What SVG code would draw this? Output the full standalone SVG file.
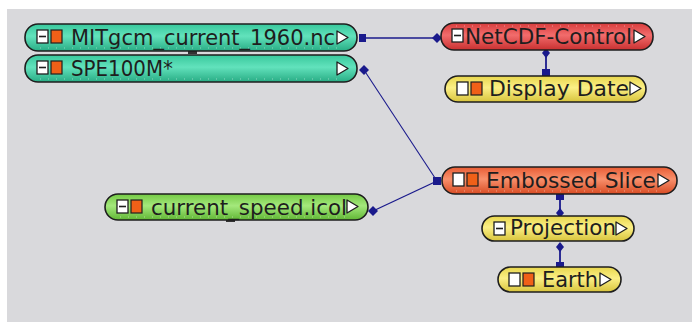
<svg xmlns="http://www.w3.org/2000/svg" width="692" height="322" viewBox="0 0 692 322">
<defs>
<linearGradient id="gTeal" x1="0" y1="0" x2="0" y2="1"><stop offset="0" stop-color="#38c89c"/><stop offset="0.45" stop-color="#62e2bc"/><stop offset="1" stop-color="#28ac84"/></linearGradient>
<linearGradient id="gRed" x1="0" y1="0" x2="0" y2="1"><stop offset="0" stop-color="#d83c3c"/><stop offset="0.45" stop-color="#f26c6c"/><stop offset="1" stop-color="#c83030"/></linearGradient>
<linearGradient id="gYellow" x1="0" y1="0" x2="0" y2="1"><stop offset="0" stop-color="#e8d64c"/><stop offset="0.45" stop-color="#fbef86"/><stop offset="1" stop-color="#d8c43c"/></linearGradient>
<linearGradient id="gOrange" x1="0" y1="0" x2="0" y2="1"><stop offset="0" stop-color="#e85c34"/><stop offset="0.45" stop-color="#f8906c"/><stop offset="1" stop-color="#d84c24"/></linearGradient>
<linearGradient id="gGreen" x1="0" y1="0" x2="0" y2="1"><stop offset="0" stop-color="#74ca44"/><stop offset="0.45" stop-color="#a4e87c"/><stop offset="1" stop-color="#60b634"/></linearGradient>
</defs>
<style>
.pill{stroke:#1e1e1e;stroke-width:1.6}
.teal{fill:url(#gTeal)}.red{fill:url(#gRed)}.yel{fill:url(#gYellow)}.org{fill:url(#gOrange)}.grn{fill:url(#gGreen)}
.box{fill:#ffffff;stroke:#1e1e1e;stroke-width:1.3}
.min{stroke:#1e1e1e;stroke-width:1.6}
.sq{fill:#f06018;stroke:#1e1e1e;stroke-width:1.2}
.play{fill:#ffffff;stroke:#1e1e1e;stroke-width:1.3;stroke-linejoin:round}
.lbl{font-family:"DejaVu Sans","Liberation Sans",sans-serif;font-size:21px;fill:#1e1e1e}
.dots{stroke:#ffffff;stroke-opacity:0.45;stroke-width:1;stroke-dasharray:1 7}
.con{stroke:#1a1a8c;fill:none}
.port{fill:#1a1a8c}
</style>
<rect x="0" y="0" width="692" height="322" fill="#ffffff"/>
<rect x="7" y="9" width="685" height="313" fill="#d9d9dc"/>

<g id="connectors">
<line class="con" x1="364" y1="38" x2="437" y2="38" stroke-width="1.6"/>
<rect class="port" x="359" y="34" width="7" height="8"/>
<path class="port" d="M437 33 L442 38 L437 43 L432 38 Z"/>
<line class="con" x1="364" y1="70" x2="437" y2="181" stroke-width="1.1"/>
<path class="port" d="M364 65 L369 70 L364 75 L359 70 Z"/>
<line class="con" x1="373" y1="211" x2="437" y2="181" stroke-width="1.3"/>
<path class="port" d="M373 206 L378 211 L373 216 L368 211 Z"/>
<rect class="port" x="433" y="177" width="8" height="8"/>
<line class="con" x1="546" y1="53" x2="546" y2="72" stroke-width="1.8"/>
<path class="port" d="M546 48 L550 53 L546 58 L542 53 Z"/>
<rect class="port" x="542" y="69" width="8" height="7"/>
<line class="con" x1="560" y1="198" x2="560" y2="213" stroke-width="1.8"/>
<rect class="port" x="556" y="193" width="8" height="7"/>
<path class="port" d="M560 208 L564 213 L560 218 L556 213 Z"/>
<line class="con" x1="560" y1="247" x2="560" y2="265" stroke-width="1.8"/>
<path class="port" d="M560 242 L564 247 L560 252 L556 247 Z"/>
<rect class="port" x="556" y="262" width="8" height="7"/>
<rect x="188" y="50" width="9" height="4" fill="#333"/>
<rect x="226" y="219" width="9" height="3" fill="#333"/>
</g>

<g id="node-mitgcm">
<rect class="pill teal" x="25" y="24" width="332" height="27" rx="13"/>
<line class="dots" x1="40" y1="48" x2="340" y2="48"/>
<rect class="box" x="37" y="30" width="11" height="13"/><line class="min" x1="39" y1="36.5" x2="46" y2="36.5"/>
<rect class="sq" x="51" y="30" width="11" height="13"/>
<text class="lbl" x="71" y="45" textLength="264" lengthAdjust="spacingAndGlyphs">MITgcm_current_1960.nc</text>
<path class="play" d="M337 31 L348 37.5 L337 44 Z"/>
</g>

<g id="node-spe100m">
<rect class="pill teal" x="25" y="55" width="332" height="27" rx="13"/>
<line class="dots" x1="40" y1="79" x2="340" y2="79"/>
<rect class="box" x="37" y="61" width="11" height="13"/><line class="min" x1="39" y1="67.5" x2="46" y2="67.5"/>
<rect class="sq" x="51" y="61" width="11" height="13"/>
<text class="lbl" x="71" y="76" textLength="102" lengthAdjust="spacingAndGlyphs">SPE100M*</text>
<path class="play" d="M337 62 L348 68.5 L337 75 Z"/>
</g>

<g id="node-netcdf">
<rect class="pill red" x="441" y="23" width="212" height="27" rx="13"/>
<line class="dots" x1="456" y1="26" x2="640" y2="26"/>
<rect class="box" x="452" y="29" width="11" height="13"/><line class="min" x1="454" y1="35.5" x2="461" y2="35.5"/>
<text class="lbl" x="465" y="44" textLength="167" lengthAdjust="spacingAndGlyphs">NetCDF-Control</text>
<path class="play" d="M634 30 L645 36.5 L634 43 Z"/>
</g>

<g id="node-displaydate">
<rect class="pill yel" x="445" y="76" width="201" height="26" rx="13"/>
<rect class="box" x="457" y="82" width="11" height="13"/>
<rect class="sq" x="471" y="82" width="11" height="13"/>
<text class="lbl" x="489" y="96" textLength="140" lengthAdjust="spacingAndGlyphs">Display Date</text>
<path class="play" d="M630 82 L641 88.5 L630 95 Z"/>
</g>

<g id="node-embossed">
<rect class="pill org" x="442" y="167" width="235" height="27" rx="13"/>
<line class="dots" x1="456" y1="191" x2="664" y2="191"/>
<rect class="box" x="453" y="173" width="11" height="13"/>
<rect class="sq" x="467" y="173" width="11" height="13"/>
<text class="lbl" x="486" y="188" textLength="170" lengthAdjust="spacingAndGlyphs">Embossed Slice</text>
<path class="play" d="M658 174 L669 180.5 L658 187 Z"/>
</g>

<g id="node-currentspeed">
<rect class="pill grn" x="105" y="194" width="263" height="26" rx="13"/>
<line class="dots" x1="120" y1="217" x2="350" y2="217"/>
<rect class="box" x="117" y="200" width="11" height="13"/><line class="min" x1="119" y1="206.5" x2="126" y2="206.5"/>
<rect class="sq" x="131" y="200" width="11" height="13"/>
<text class="lbl" x="151" y="215" textLength="196" lengthAdjust="spacingAndGlyphs">current_speed.icol</text>
<path class="play" d="M347 200 L358 206.5 L347 213 Z"/>
</g>

<g id="node-projection">
<rect class="pill yel" x="482" y="216" width="152" height="25" rx="12.5"/>
<rect class="box" x="494" y="222" width="11" height="13"/><line class="min" x1="496" y1="228.5" x2="503" y2="228.5"/>
<text class="lbl" x="510" y="235" textLength="106" lengthAdjust="spacingAndGlyphs">Projection</text>
<path class="play" d="M616 222 L627 228.5 L616 235 Z"/>
</g>

<g id="node-earth">
<rect class="pill yel" x="498" y="267" width="123" height="25" rx="12.5"/>
<rect class="box" x="509" y="273" width="11" height="13"/>
<rect class="sq" x="523" y="273" width="11" height="13"/>
<text class="lbl" x="542" y="287" textLength="56" lengthAdjust="spacingAndGlyphs">Earth</text>
<path class="play" d="M600 273 L611 279.5 L600 286 Z"/>
</g>
</svg>
